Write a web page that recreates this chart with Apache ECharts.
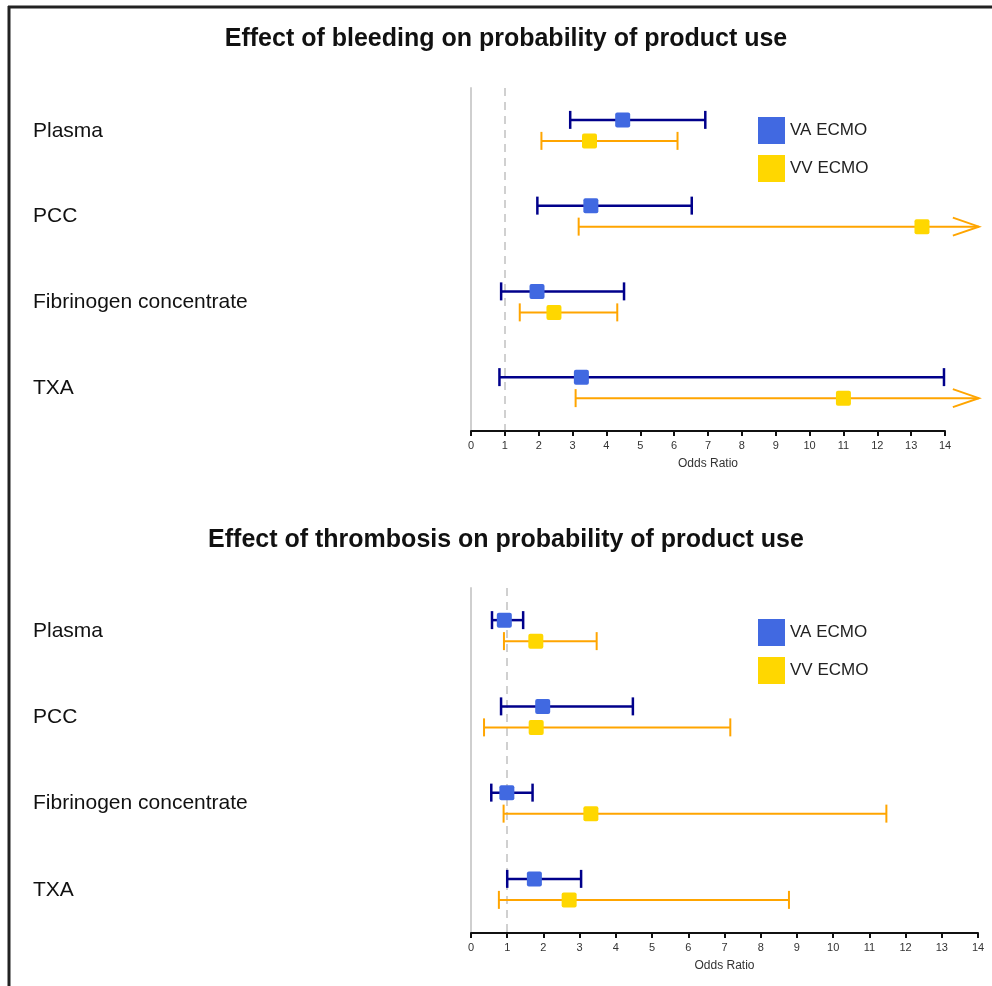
<!DOCTYPE html>
<html>
<head>
<meta charset="utf-8">
<script src="https://cdn.jsdelivr.net/npm/echarts@6/dist/echarts.min.js"></script>
<style>
  html, body { margin: 0; padding: 0; background: #fff; }
  #chart { width: 992px; height: 986px; }
</style>
</head>
<body>
<div id="chart"></div>
<script>
// categories (top to bottom)
const categories = ['Plasma', 'PCC', 'Fibrinogen concentrate', 'TXA']
const legendNames = ['VA ECMO', 'VV ECMO']
const xTicks = [0, 14]

// [lower, estimate, upper, category index, open-ended upper (1 = arrow)]
const bleedVA = [
  [2.93, 4.48, 6.92, 0, 0],
  [1.96, 3.54, 6.52, 1, 0],
  [0.89, 1.95, 4.52, 2, 0],
  [0.84, 3.26, 13.97, 3, 0]
]
const bleedVV = [
  [2.08, 3.50, 6.10, 0, 0],
  [3.18, 13.32, 15, 1, 1],
  [1.44, 2.45, 4.32, 2, 0],
  [3.09, 11.0, 15, 3, 1]
]
const thrombVA = [
  [0.58, 0.92, 1.44, 0, 0],
  [0.83, 1.98, 4.47, 1, 0],
  [0.56, 0.99, 1.70, 2, 0],
  [1.00, 1.75, 3.04, 3, 0]
]
const thrombVV = [
  [0.91, 1.79, 3.47, 0, 0],
  [0.36, 1.80, 7.16, 1, 0],
  [0.90, 3.31, 11.47, 2, 0],
  [0.77, 2.71, 8.78, 3, 0]
]

const VA_FILL = '#4169E1'
const VA_LINE = '#00008B'
const VV_FILL = '#FFD700'
const VV_LINE = '#FFA500'
const FONT = 'Liberation Sans'

// error bar + square marker, shifted up/down inside the category band
function makeRender(offset, lineColor, lineW, fill) {
  return function (params, api) {
    const cat = api.value(3)
    const lo = api.coord([api.value(0), cat])
    const mid = api.coord([api.value(1), cat])
    const hi = api.coord([api.value(2), cat])
    const open = api.value(4) === 1
    const y = lo[1] + offset
    const cap = 9
    const style = { stroke: lineColor, lineWidth: lineW, fill: null }
    const children = [
      { type: 'line', shape: { x1: lo[0], y1: y, x2: hi[0], y2: y }, style },
      { type: 'line', shape: { x1: lo[0], y1: y - cap, x2: lo[0], y2: y + cap }, style }
    ]
    if (open) {
      children.push({
        type: 'polyline',
        shape: { points: [[hi[0] - 26, y - 9], [hi[0], y], [hi[0] - 26, y + 9]] },
        style
      })
    } else {
      children.push({ type: 'line', shape: { x1: hi[0], y1: y - cap, x2: hi[0], y2: y + cap }, style })
    }
    children.push({
      type: 'rect',
      z2: 10,
      shape: { x: mid[0] - 7.5, y: y - 7.5, width: 15, height: 15, r: 2 },
      style: { fill: fill, stroke: null }
    })
    return { type: 'group', children }
  }
}

function barSeries(name, data, gridIdx, offset, lineColor, lineW, fill) {
  return {
    name: name,
    type: 'custom',
    xAxisIndex: gridIdx,
    yAxisIndex: gridIdx,
    clip: false,
    itemStyle: { color: fill },
    encode: { x: [0, 1, 2], y: 3 },
    renderItem: makeRender(offset, lineColor, lineW, fill),
    data: data,
    z: 10
  }
}

function xAxisCfg(gridIdx) {
  return {
    type: 'value',
    gridIndex: gridIdx,
    min: xTicks[0],
    max: xTicks[1],
    interval: 1,
    name: 'Odds Ratio',
    nameLocation: 'middle',
    nameGap: 27,
    nameTextStyle: { fontFamily: FONT, fontSize: 12, color: '#333' },
    axisLine: { show: true, lineStyle: { color: '#111', width: 2 } },
    axisTick: { show: true, length: 5, lineStyle: { color: '#111', width: 2 } },
    axisLabel: { margin: 9, fontFamily: FONT, fontSize: 11, color: '#333' },
    splitLine: { show: false }
  }
}

function yAxisCfg(gridIdx) {
  return {
    type: 'category',
    gridIndex: gridIdx,
    data: categories,
    inverse: true,
    axisLine: { show: true, onZero: false, lineStyle: { color: '#cfcfcf', width: 2 } },
    axisTick: { show: false },
    axisLabel: {
      align: 'left',
      margin: 438,
      fontFamily: FONT,
      fontSize: 21,
      color: '#111'
    }
  }
}

function refLine(gridIdx) {
  return {
    type: 'line',
    xAxisIndex: gridIdx,
    yAxisIndex: gridIdx,
    data: [],
    silent: true,
    z: 0,
    markLine: {
      symbol: 'none',
      silent: true,
      z: 0,
      label: { show: false },
      lineStyle: { color: '#d0d0d0', width: 2, type: [8, 6] },
      data: [{ xAxis: 1 }]
    }
  }
}

function legendCfg(top) {
  return {
    data: legendNames,
    orient: 'vertical',
    left: 753,
    top: top,
    icon: 'rect',
    itemWidth: 27,
    itemHeight: 27,
    itemGap: 11,
    selectedMode: false,
    textStyle: { fontFamily: FONT, fontSize: 17, color: '#222' }
  }
}

const chart = echarts.init(document.getElementById('chart'))
chart.setOption({
  backgroundColor: '#fff',
  animation: false,
  title: [
    {
      text: 'Effect of bleeding on probability of product use',
      left: 501,
      textAlign: 'center',
      top: 22,
      textStyle: { fontFamily: FONT, fontWeight: 'bold', fontSize: 25, color: '#111' }
    },
    {
      text: 'Effect of thrombosis on probability of product use',
      left: 501,
      textAlign: 'center',
      top: 523,
      textStyle: { fontFamily: FONT, fontWeight: 'bold', fontSize: 25, color: '#111' }
    }
  ],
  legend: [legendCfg(112), legendCfg(614)],
  grid: [
    { left: 471, top: 88, width: 474, height: 343 },
    { left: 471, top: 588, width: 507, height: 345 }
  ],
  xAxis: [xAxisCfg(0), xAxisCfg(1)],
  yAxis: [yAxisCfg(0), yAxisCfg(1)],
  graphic: [
    { type: 'line', shape: { x1: 8, y1: 7, x2: 992, y2: 7 }, style: { stroke: '#222', lineWidth: 3 } },
    { type: 'line', shape: { x1: 9, y1: 6, x2: 9, y2: 986 }, style: { stroke: '#222', lineWidth: 3 } }
  ],
  series: [
    refLine(0),
    refLine(1),
    barSeries('VA ECMO', bleedVA, 0, -11, VA_LINE, 2.5, VA_FILL),
    barSeries('VV ECMO', bleedVV, 0, 10, VV_LINE, 2, VV_FILL),
    barSeries('VA ECMO', thrombVA, 1, -11, VA_LINE, 2.5, VA_FILL),
    barSeries('VV ECMO', thrombVV, 1, 10, VV_LINE, 2, VV_FILL)
  ]
})
</script>
</body>
</html>
